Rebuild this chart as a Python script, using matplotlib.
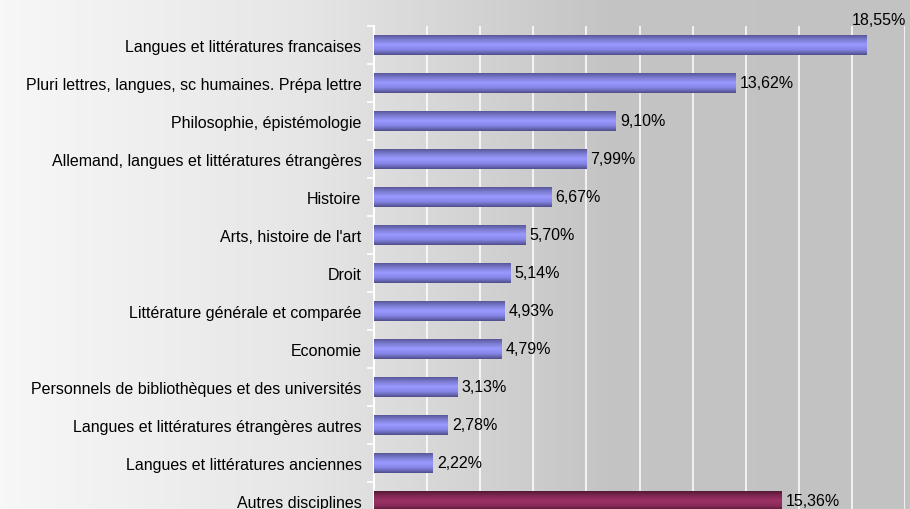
import numpy as np
import matplotlib.pyplot as plt
from matplotlib.colors import LinearSegmentedColormap

plt.rcParams['font.family'] = ['Liberation Sans', 'DejaVu Sans']

categories = [
    "Langues et littératures francaises",
    "Pluri lettres, langues, sc humaines. Prépa lettre",
    "Philosophie, épistémologie",
    "Allemand, langues et littératures étrangères",
    "Histoire",
    "Arts, histoire de l'art",
    "Droit",
    "Littérature générale et comparée",
    "Economie",
    "Personnels de bibliothèques et des universités",
    "Langues et littératures étrangères autres",
    "Langues et littératures anciennes",
    "Autres disciplines",
]
values = [18.55, 13.62, 9.10, 7.99, 6.67, 5.70, 5.14, 4.93, 4.79, 3.13, 2.78, 2.22, 15.36]
labels = ["18,55%", "13,62%", "9,10%", "7,99%", "6,67%", "5,70%", "5,14%",
          "4,93%", "4,79%", "3,13%", "2,78%", "2,22%", "15,36%"]

blue_cm = LinearSegmentedColormap.from_list("b", ["#4f4f8c", "#7a7ad0", "#9a9aff", "#8585e6", "#4f4f8c"])
red_cm = LinearSegmentedColormap.from_list("r", ["#4a1530", "#7f2650", "#9b3366", "#8a2b5a", "#4a1530"])

fig = plt.figure(figsize=(9.1, 5.1), dpi=100)

# fond dégradé
bg = fig.add_axes([0, 0, 1, 1], zorder=-1)
bg.imshow(np.linspace(0, 1, 256)[None, :], aspect='auto', extent=[0, 1, 0, 1],
          cmap=LinearSegmentedColormap.from_list("g", ["#f7f7f7", "#e6e6e6", "#c4c4c4", "#c2c2c2"]))
bg.axis('off')

ax = fig.add_axes([374 / 910, 1 - 521 / 510, 531 / 910, 494 / 510])
ax.patch.set_alpha(0)

y = np.arange(len(categories))
bars = ax.barh(y, values, height=0.55, color='none', edgecolor='none')
grad = np.linspace(0, 1, 64)[:, None]
for i, b in enumerate(bars):
    cm = red_cm if i == len(bars) - 1 else blue_cm
    x0, y0 = b.get_x(), b.get_y()
    im = ax.imshow(grad, aspect='auto', cmap=cm, zorder=3,
                   extent=[x0, x0 + b.get_width(), y0 + b.get_height(), y0])
    im.set_clip_path(b)

for i, (v, lab) in enumerate(zip(values, labels)):
    if i == 0:
        ax.annotate(lab, (v, i), xytext=(9, 18), textcoords='offset points',
                    ha='center', va='center', fontsize=11.5, annotation_clip=False)
    else:
        ax.annotate(lab, (v, i), xytext=(3, 0), textcoords='offset points',
                    ha='left', va='center', fontsize=11.5)

ax.set_xlim(0, 20)
ax.set_ylim(len(categories) - 0.5, -0.5)
ax.set_xticks(np.arange(2, 21, 2))
ax.tick_params(axis='x', length=0, labelbottom=False)
ax.grid(axis='x', color='white', lw=1.1, zorder=1)
ax.set_axisbelow(True)

ax.set_yticks(y)
ax.set_yticklabels(categories, fontsize=11.5)
ax.tick_params(axis='y', which='major', length=0, pad=9)
ax.set_yticks(np.arange(-0.5, len(categories), 1), minor=True)
ax.tick_params(axis='y', which='minor', length=5, color='white', width=1.2)

for s in ['top', 'right', 'bottom']:
    ax.spines[s].set_visible(False)
ax.spines['left'].set_color('white')
ax.spines['left'].set_linewidth(1.5)

fig.savefig("out.png", dpi=100)
